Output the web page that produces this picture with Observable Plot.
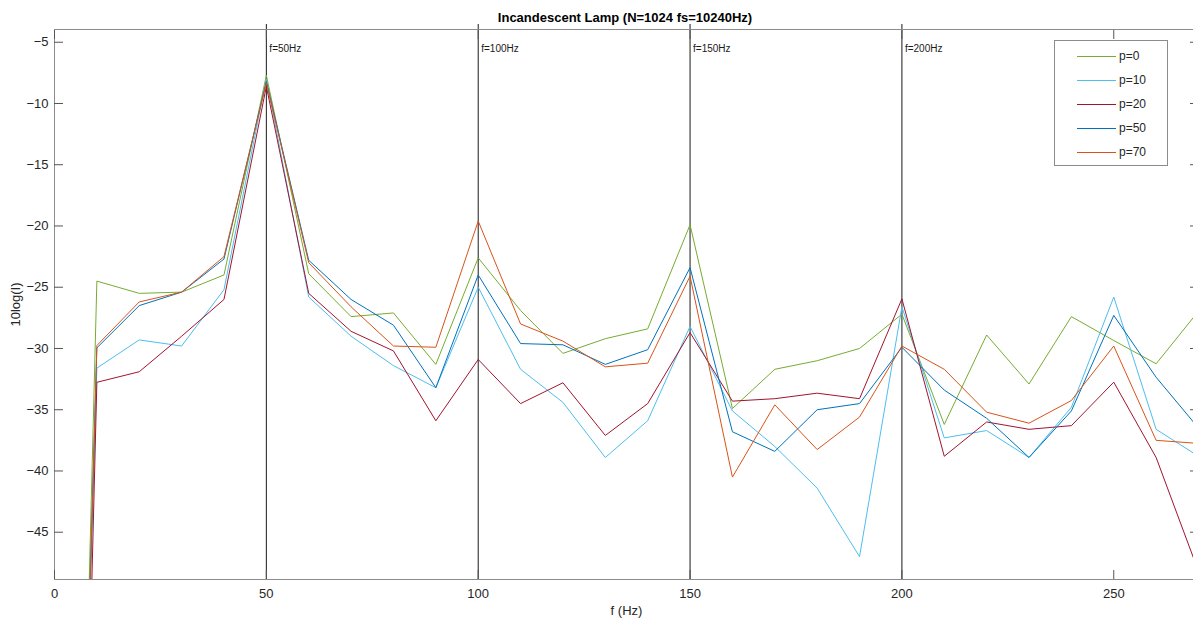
<!DOCTYPE html>
<html>
<head>
<meta charset="utf-8">
<script src="https://cdn.jsdelivr.net/npm/d3@7"></script>
<script src="https://cdn.jsdelivr.net/npm/@observablehq/plot@0.6"></script>
<style>
  body { margin: 0; background: #fff; font-family: "Liberation Sans", Arial, sans-serif; }
  #wrap { position: relative; width: 1193px; height: 618px; overflow: hidden; }
  #title { box-sizing: border-box; width: 1193px; height: 24px; padding-top: 11px; padding-left: 57px; line-height: 14px;
           font-size: 13px; font-weight: bold; text-align: center; color: #000; }
  #legend { position: absolute; left: 1054px; top: 40px; width: 114px; height: 126px; border: 1px solid #8c8c8c;
            background: #fff; box-sizing: border-box; padding-top: 3px; }
  .row { height: 24px; display: flex; align-items: center; font-size: 12px; color: #262626; }
  .sw { display: block; width: 39px; height: 1px; margin-left: 22px; margin-right: 3px; }
</style>
</head>
<body>
<div id="wrap">
  <div id="title">Incandescent Lamp (N=1024 fs=10240Hz)</div>
  <div id="chart"></div>
  <div id="legend"></div>
</div>
<script>
// frequency bins (Hz)
const freqs = [0,10,20,30,40,50,60,70,80,90,100,110,120,130,140,150,160,170,180,190,200,210,220,230,240,250,260,270];
// series (10log(I))
const p0  = [-160,-24.5,-25.5,-25.4,-24.0,-7.7,-23.9,-27.4,-27.1,-31.3,-22.6,-26.9,-30.4,-29.2,-28.4,-19.9,-34.9,-31.7,-31.0,-30.0,-27.2,-36.2,-28.9,-32.9,-27.4,-29.35,-31.25,-26.95];
const p10 = [-150,-31.6,-29.3,-29.8,-25.2,-8.0,-25.8,-29.0,-31.4,-33.2,-25.0,-31.7,-34.4,-38.9,-35.9,-28.2,-35.1,-38.0,-41.4,-47.0,-26.6,-37.3,-36.7,-38.9,-34.8,-25.8,-36.6,-38.8];
const p20 = [-170,-32.76,-31.9,-29.0,-26.0,-8.6,-25.5,-28.6,-30.2,-35.9,-30.9,-34.5,-32.8,-37.1,-34.5,-28.7,-34.3,-34.1,-33.65,-34.1,-25.95,-38.8,-36.0,-36.6,-36.3,-32.75,-38.9,-48.2];
const p50 = [-150,-29.95,-26.5,-25.4,-22.7,-8.2,-22.8,-26.0,-28.1,-33.2,-24.0,-29.6,-29.7,-31.3,-30.1,-23.4,-36.8,-38.4,-35.0,-34.5,-29.9,-33.4,-35.7,-38.9,-35.1,-27.3,-32.35,-36.5];
const p70 = [-150,-29.76,-26.2,-25.4,-22.5,-8.3,-23.0,-26.6,-29.8,-29.9,-19.6,-28.0,-29.4,-31.5,-31.2,-24.1,-40.5,-34.6,-38.25,-35.6,-29.8,-31.7,-35.2,-36.1,-34.25,-29.8,-37.5,-37.75];

const seriesNames = ["p=0","p=10","p=20","p=50","p=70"];
const seriesValues = [p0, p10, p20, p50, p70];
const seriesColors = ["#77AC30","#4DBEEE","#A2142F","#0072BD","#D95319"];

const markers = [50, 100, 150, 200];
const xTicks = [0, 50, 100, 150, 200, 250];
const yTicks = [-45, -40, -35, -30, -25, -20, -15, -10, -5];

const rows = [];
seriesNames.forEach((name, i) => {
  freqs.forEach((f, j) => rows.push({p: name, f, v: seriesValues[i][j]}));
});

const axisColor = "#262626";
const chart = Plot.plot({
  width: 1193,
  height: 594,
  marginLeft: 54,
  marginRight: -5,
  marginTop: 5,
  marginBottom: 39,
  style: {fontFamily: '"Liberation Sans", Arial, sans-serif', fontSize: "13px", color: axisColor, background: "#fff"},
  x: {domain: [0, 270]},
  y: {domain: [-48.86, -3.96]},
  color: {domain: seriesNames, range: seriesColors},
  marks: [
    Plot.ruleX(markers, {x: d => d, stroke: "#1a1a1a", strokeWidth: 1, insetTop: -5}),
    Plot.text(markers, {x: d => d, text: d => `f=${d}Hz`, frameAnchor: "top", dy: 15, dx: 3, textAnchor: "start", fontSize: 10, fill: "#1a1a1a"}),
    Plot.lineY(rows, {x: "f", y: "v", z: "p", stroke: "p", strokeWidth: 1, clip: true}),
    Plot.frame({stroke: "#8c8c8c"}),
    // bottom: inward ticks + labels
    Plot.axisX({anchor: "bottom", ticks: xTicks, tickSize: -9, fill: "none", label: null, stroke: "#555"}),
    Plot.axisX({anchor: "bottom", ticks: xTicks, tickSize: 0, tickPadding: 9, label: "f (Hz)", labelAnchor: "center", labelArrow: "none", labelOffset: 35, fill: axisColor}),
    // top: inward ticks
    Plot.axisX({anchor: "top", ticks: xTicks, tickSize: -9, fill: "none", label: null, stroke: "#555"}),
    // left: inward ticks + labels
    Plot.axisY({anchor: "left", ticks: yTicks, tickSize: 0, tickPadding: 6, label: "10log(I)", labelAnchor: "center", labelArrow: "none", labelOffset: 44, fill: axisColor}),
    Plot.axisY({anchor: "left", ticks: yTicks, tickSize: -9, fill: "none", label: null, stroke: "#555"}),
    // right: inward ticks
    Plot.axisY({anchor: "right", ticks: yTicks, tickSize: -9, fill: "none", label: null, stroke: "#555"})
  ]
});
document.getElementById("chart").appendChild(chart);

const legend = document.getElementById("legend");
seriesNames.forEach((name, i) => {
  const row = document.createElement("div");
  row.className = "row";
  const sw = document.createElement("span");
  sw.className = "sw";
  sw.style.background = seriesColors[i];
  const lab = document.createElement("span");
  lab.textContent = name;
  row.appendChild(sw);
  row.appendChild(lab);
  legend.appendChild(row);
});
</script>
</body>
</html>
